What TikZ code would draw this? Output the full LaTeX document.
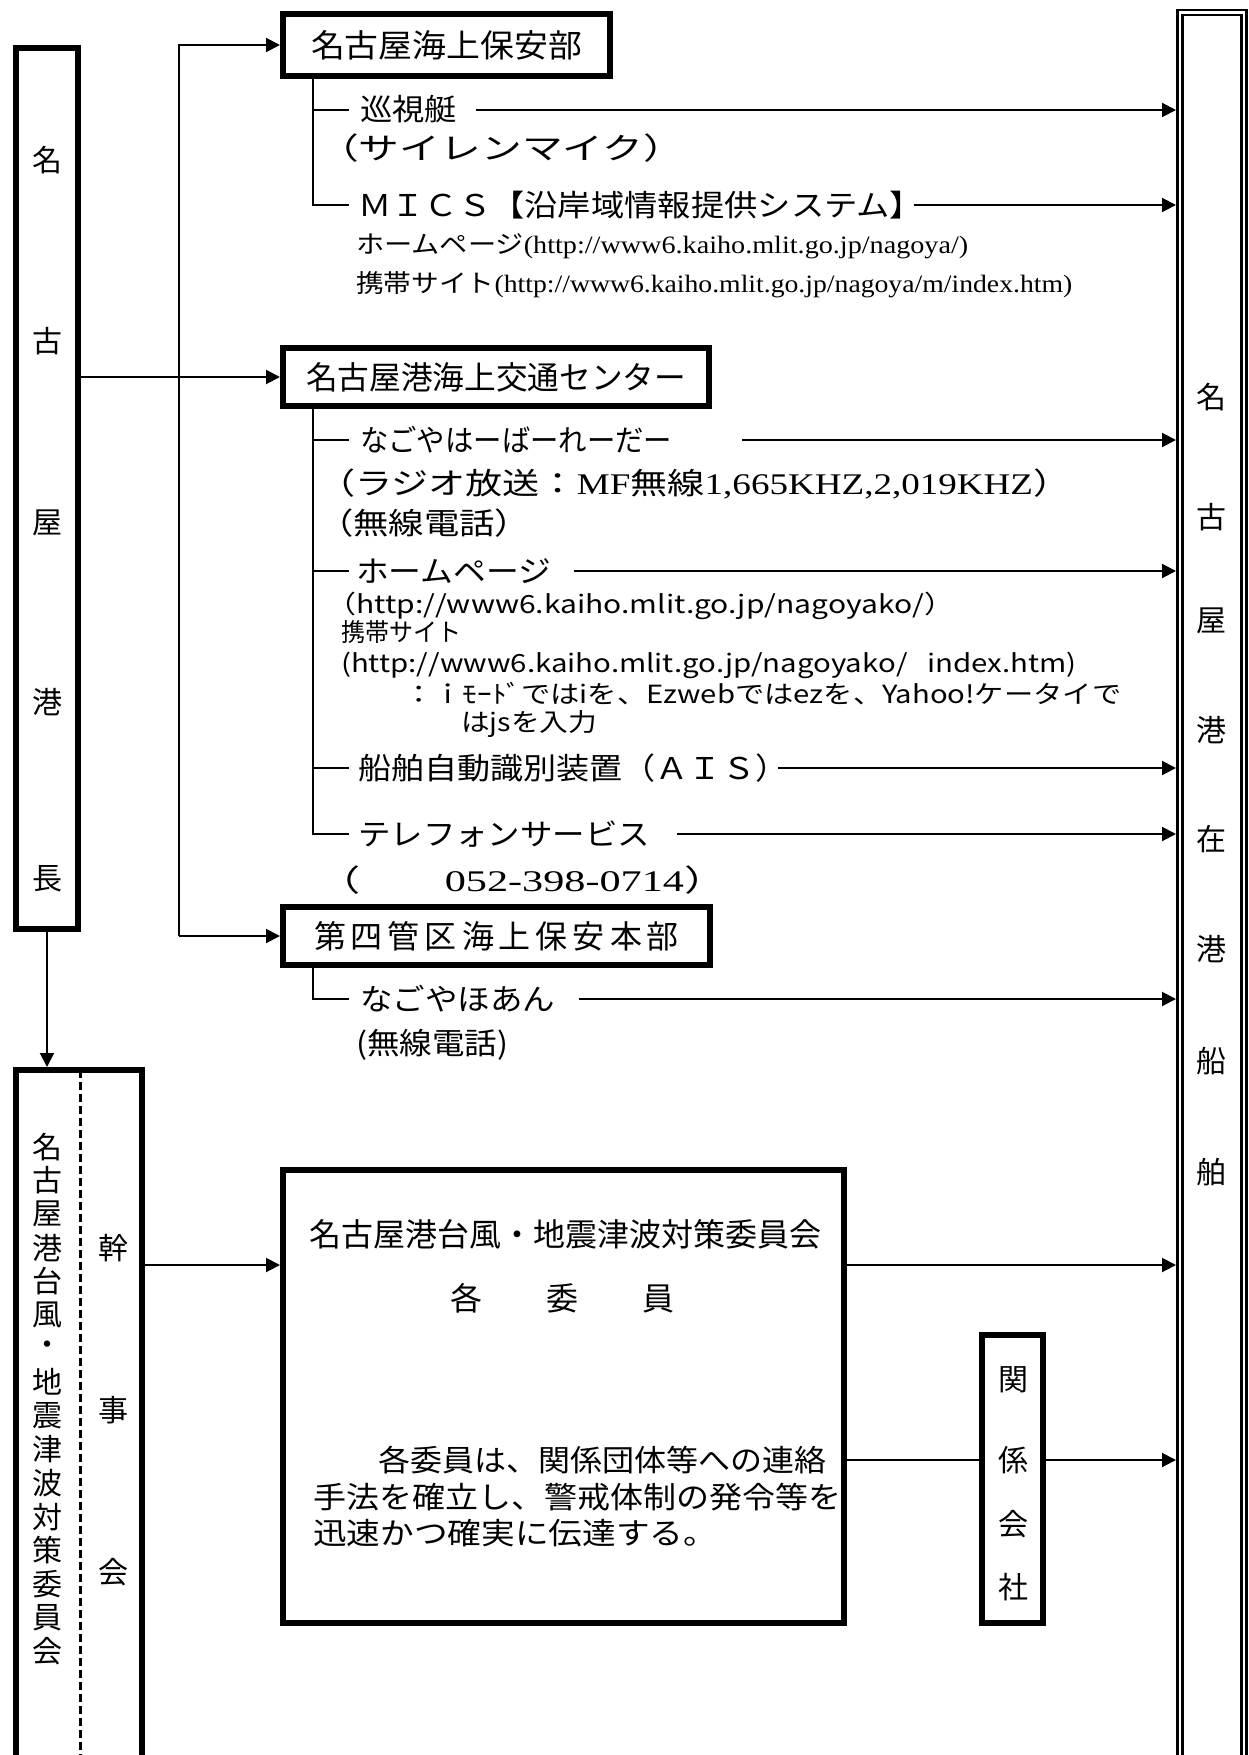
\documentclass[tikz,border=0pt]{standalone}
\usepackage{fontspec}
\setmainfont{Noto Sans CJK JP}
\newfontfamily\serifjp{Liberation Serif}
\usetikzlibrary{arrows.meta}
\newcommand{\fitto}[2]{\resizebox{#1pt}{\height}{#2}}
\begin{document}
\begin{tikzpicture}[x=1pt,y=-1pt,
  bx/.style={draw, line width=6pt, inner sep=0pt},
  lbl/.style={anchor=west, inner sep=0pt, text height=26pt, text depth=4pt, font=\fontsize{30}{36}\selectfont},
  sm/.style={font=\fontsize{25}{28}\selectfont, text height=22pt, text depth=3pt},
  ch/.style={inner sep=0pt, font=\fontsize{30}{36}\selectfont},
  conn/.style={line width=2pt},
  arr/.style={line width=2pt, -{Triangle[length=14pt,width=14pt]}}
]
\useasboundingbox (0,0) rectangle (1249,1755);
\clip (0,0) rectangle (1249,1755);

% ---------- left column: harbour master ----------
\node[bx, minimum width=62pt, minimum height=881pt] (lb) at (47,488.5) {};
\foreach \c/\yy [count=\i] in {名/160,古/341,屋/523,港/702,長/879}
  \node[ch] (lc\i) at (47,\yy) {\c};

% ---------- right column: ships in port ----------
\node[draw, line width=2.5pt, minimum width=69pt, minimum height=1790pt, inner sep=0pt] (rb) at (1211.75,905) {};
\draw[line width=2.5pt] ([shift={(6.25,6.25)}]rb.north west) rectangle ([shift={(-6.25,0)}]rb.south east);
\foreach \c/\yy [count=\i] in {名/397,古/517,屋/621,港/730,在/839,港/949,船/1061,舶/1172}
  \node[ch] (rc\i) at (1211.75,\yy) {\c};

% ---------- three organisations ----------
\node[bx, minimum width=327pt, minimum height=62pt] (b1) at (446.5,45)
  {\fontsize{32}{36}\selectfont\fitto{271}{名古屋海上保安部}};
\node[bx, minimum width=426pt, minimum height=58pt] (b2) at (496,377)
  {\fontsize{32}{36}\selectfont\fitto{380}{名古屋港海上交通センター}};
\node[bx, minimum width=427pt, minimum height=58pt] (b3) at (496.5,936)
  {\fontsize{32}{36}\selectfont 第\kern5pt 四\kern5pt 管\kern5pt 区\kern5pt 海\kern5pt 上\kern5pt 保\kern5pt 安\kern5pt 本\kern5pt 部};

\coordinate (tx) at (179,0);
\draw[arr] (tx |- b3.west) -- (tx |- b1.west) -- (b1.west);
\draw[arr] (tx |- b3.west) -- (b3.west);
\draw[arr] (lb.east |- b2.west) -- (b2.west);

% ---------- items ----------
\node[lbl] (i1) at (360,110) {\fitto{97}{巡視艇}};
\node[lbl] (i1a) at (318,149) {\fitto{366}{（サイレンマイク）}};
\node[lbl] (i2) at (358,205) {\fitto{565}{ＭＩＣＳ【沿岸域情報提供システム】}};
\node[lbl,sm] (i2a) at (356,244) {\fitto{612}{ホームページ{\serifjp(http://www6.kaiho.mlit.go.jp/nagoya/)}}};
\node[lbl,sm] (i2b) at (356,283) {\fitto{716}{携帯サイト{\serifjp(http://www6.kaiho.mlit.go.jp/nagoya/m/index.htm)}}};

\node[lbl] (i3) at (360,440) {\fitto{312}{なごやはーばーれーだー}};
\node[lbl] (i3a) at (318,483) {\fitto{752}{（ラジオ放送：{\serifjp MF}無線{\serifjp 1,665KHZ,2,019KHZ}）}};
\node[lbl] (i3b) at (318,523) {\fitto{212}{（無線電話）}};
\node[lbl] (i4) at (356,571) {\fitto{195}{ホームページ}};
\node[lbl,sm] (i4a) at (326,604) {\fitto{628}{（http://www6.kaiho.mlit.go.jp/nagoyako/）}};
\node[lbl,sm] (i4b) at (341,632) {\fitto{120}{携帯サイト}};
\node[lbl,sm] (i4c) at (341,663) {\fitto{735}{(http://www6.kaiho.mlit.go.jp/nagoyako/\ \ \ index.htm)}};
\node[lbl,sm] (i4d) at (404,694) {\fitto{717}{：ｉﾓｰﾄﾞではiを、Ezwebではezを、Yahoo!ケータイで}};
\node[lbl,sm] (i4e) at (461,722) {\fitto{136}{はjsを入力}};
\node[lbl] (i5) at (358,768) {\fitto{430}{船舶自動識別装置（ＡＩＳ）}};
\node[lbl] (i6) at (358,834) {\fitto{292}{テレフォンサービス}};
\node[lbl] (i6a) at (318,880) {\fitto{408}{（　　{\serifjp 052-398-0714}）}};

\node[lbl] (i7) at (360,999) {\fitto{195}{なごやほあん}};
\node[lbl] (i7a) at (356,1043) {\fitto{152}{(無線電話)}};

% ---------- branches ----------
\coordinate (te) at (349,0);
\coordinate (r1) at (313,79);
\coordinate (r2) at (313,409);
\coordinate (r3) at (313,968);
\draw[conn] (r1) -- (r1 |- i2.west) -- (te |- i2.west);
\draw[conn] (r1 |- i1.west) -- (te |- i1.west);
\draw[conn] (r2) -- (r2 |- i6.west) -- (te |- i6.west);
\draw[conn] (r2 |- i3.west) -- (te |- i3.west);
\draw[conn] (r2 |- i4.west) -- (te |- i4.west);
\draw[conn] (r2 |- i5.west) -- (te |- i5.west);
\draw[conn] (r3) -- (r3 |- i7.west) -- (te |- i7.west);

% ---------- arrows to ships ----------
\coordinate (s1) at (476,0);
\coordinate (s2) at (914,0);
\coordinate (s3) at (742,0);
\coordinate (s4) at (574,0);
\coordinate (s5) at (778,0);
\coordinate (s6) at (677,0);
\coordinate (s7) at (579,0);
\draw[arr] (s1 |- i1.west) -- (rb.west |- i1.west);
\draw[arr] (s2 |- i2.west) -- (rb.west |- i2.west);
\draw[arr] (s3 |- i3.west) -- (rb.west |- i3.west);
\draw[arr] (s4 |- i4.west) -- (rb.west |- i4.west);
\draw[arr] (s5 |- i5.west) -- (rb.west |- i5.west);
\draw[arr] (s6 |- i6.west) -- (rb.west |- i6.west);
\draw[arr] (s7 |- i7.west) -- (rb.west |- i7.west);

% ---------- committee (bottom left) ----------
\node[bx, minimum width=126pt, minimum height=740pt] (lb2) at (79,1440) {};
\coordinate (dtop) at (80,1070);
\coordinate (dbot) at (80,1760);
\draw[line width=3pt, dash pattern=on 8pt off 4pt] (dtop) -- (dbot);
\foreach \c [count=\i] in {名,古,屋,港,台,風,・,地,震,津,波,対,策,委,員,会}
  \node[ch] (v\i) at (47,{1147+33.6*(\i-1)}) {\c};
\node[ch] (k1) at (113,1248) {幹};
\node[ch] (k2) at (113,1410) {事};
\node[ch] (k3) at (113,1572) {会};
\draw[arr] (lb.south) -- (lb2.north -| lb.south);

% ---------- committee members box ----------
\node[bx, minimum width=561pt, minimum height=453pt] (bb) at (563.5,1396.5) {};
\node[ch, font=\fontsize{32}{36}\selectfont] (t1) at (565.5,1234) {名古屋港台風・地震津波対策委員会};
\node[ch, font=\fontsize{32}{36}\selectfont] (t2) at (562,1298) {各　　委　　員};
\node[lbl] (p1) at (378,1460) {\fitto{448}{各委員は、関係団体等への連絡}};
\node[lbl] (p2) at (313,1497) {\fitto{528}{手法を確立し、警戒体制の発令等を}};
\node[lbl] (p3) at (313,1533) {\fitto{404}{迅速かつ確実に伝達する。}};

% ---------- related companies ----------
\node[bx, minimum width=61pt, minimum height=288pt] (kb) at (1012.5,1479) {};
\node[ch] (kc1) at (1013,1380) {関};
\node[ch] (kc2) at (1013,1460) {係};
\node[ch] (kc3) at (1013,1524) {会};
\node[ch] (kc4) at (1013,1587) {社};

\coordinate (ya) at (0,1265);
\coordinate (yb) at (0,1460);
\draw[arr] (lb2.east |- ya) -- (bb.west |- ya);
\draw[arr] (bb.east |- ya) -- (rb.west |- ya);
\draw[conn] (bb.east |- yb) -- (kb.west |- yb);
\draw[arr] (kb.east |- yb) -- (rb.west |- yb);
\end{tikzpicture}
\end{document}
